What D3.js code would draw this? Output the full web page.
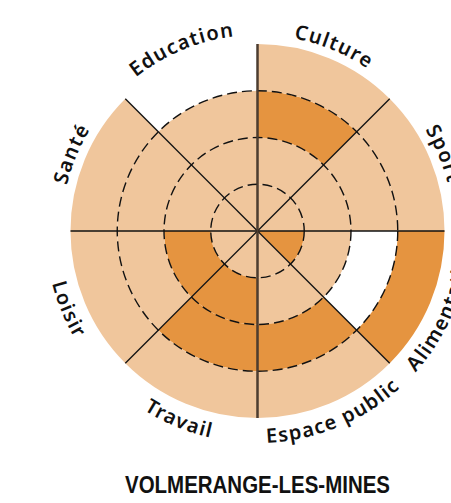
<!DOCTYPE html>
<html>
<head>
<meta charset="utf-8">
<script src="https://cdn.jsdelivr.net/npm/d3@7"></script>
<style>
  html, body { margin: 0; padding: 0; background: #fff; }
  svg { display: block; }
</style>
</head>
<body>
<svg id="chart" width="451" height="503"></svg>
<script>
// ---- data ----
const sectors = ["Culture", "Sport", "Alimentation", "Espace public", "Travail", "Loisir", "Santé", "Education"];
// ring levels from inner to outer: 0 = none, 1 = light, 2 = dark
const cultureRings      = [1, 1, 2, 1];
const sportRings        = [1, 1, 1, 1];
const alimentationRings = [2, 1, 0, 2];
const espacePublicRings = [1, 1, 2, 1];
const travailRings      = [1, 2, 2, 1];
const loisirRings       = [1, 2, 1, 1];
const santeRings        = [1, 1, 1, 1];
const educationRings    = [1, 1, 1, 0];
const ringValues = [cultureRings, sportRings, alimentationRings, espacePublicRings,
                    travailRings, loisirRings, santeRings, educationRings];
const ringTicks = [1, 2, 3];
const title = "VOLMERANGE-LES-MINES";

// ---- layout ----
const cx = 257.5, cy = 231;
const outerR = 187;
const colors = { 0: "none", 1: "#f0c69c", 2: "#e59440" };

const svg = d3.select("#chart");
const g = svg.append("g").attr("transform", `translate(${cx},${cy})`);

const angle = d3.scaleBand().domain(sectors).range([0, 2 * Math.PI]).padding(0);
const radius = d3.scaleLinear().domain([0, 4]).range([0, outerR]);

const cells = [];
sectors.forEach((s, si) => {
  ringValues[si].forEach((v, ri) => cells.push({ sector: s, ring: ri, value: v }));
});

const arc = d3.arc()
  .innerRadius(d => radius(d.ring))
  .outerRadius(d => radius(d.ring + 1))
  .startAngle(d => angle(d.sector))
  .endAngle(d => angle(d.sector) + angle.bandwidth());

g.append("g").selectAll("path")
  .data(cells.filter(d => d.value > 0))
  .join("path")
  .attr("d", arc)
  .attr("fill", d => colors[d.value]);

// dashed circles
g.append("g").selectAll("circle")
  .data(ringTicks)
  .join("circle")
  .attr("r", d => radius(d))
  .attr("fill", "none")
  .attr("stroke", "#111")
  .attr("stroke-width", 1.4)
  .attr("stroke-dasharray", "10,5");

// radial lines
g.append("g").selectAll("line")
  .data(sectors)
  .join("line")
  .attr("x1", 0).attr("y1", 0)
  .attr("x2", d => outerR * Math.sin(angle(d)))
  .attr("y2", d => -outerR * Math.cos(angle(d)))
  .attr("stroke", "#111")
  .attr("stroke-width", (d, i) => (i % 2 === 0 ? 1.6 : 1.3));

// vertical axis line (drawn thicker/brown)
g.append("line")
  .attr("x1", 0).attr("y1", -outerR).attr("x2", 0).attr("y2", outerR)
  .attr("stroke", "#4d3d30").attr("stroke-width", 2.2);

// labels on curved paths
const defs = svg.append("defs");
const topR = 196, botR = 212, half = 45 * Math.PI / 180;
sectors.forEach((s, i) => {
  const mid = angle(s) + angle.bandwidth() / 2;
  const bottom = mid > Math.PI / 2 && mid < 3 * Math.PI / 2;
  const R = bottom ? botR : topR;
  const a0 = bottom ? mid + half : mid - half;
  const a1 = bottom ? mid - half : mid + half;
  const p0 = [R * Math.sin(a0), -R * Math.cos(a0)];
  const p1 = [R * Math.sin(a1), -R * Math.cos(a1)];
  defs.append("path")
    .attr("id", "lp" + i)
    .attr("d", `M${p0[0]},${p0[1]} A${R},${R} 0 0 ${bottom ? 0 : 1} ${p1[0]},${p1[1]}`);
  g.append("text")
    .attr("font-family", "'Noto Sans', sans-serif")
    .attr("font-weight", 600)
    .attr("font-size", 20)
    .attr("letter-spacing", 1.3)
    .attr("fill", "#111")
    .append("textPath")
    .attr("href", "#lp" + i)
    .attr("startOffset", "50%")
    .attr("text-anchor", "middle")
    .text(s);
});

// title
svg.append("text")
  .attr("x", 257.5).attr("y", 493)
  .attr("text-anchor", "middle")
  .attr("font-family", "'Liberation Sans', Arial, sans-serif")
  .attr("font-weight", "bold")
  .attr("font-size", 24)
  .attr("textLength", 265)
  .attr("lengthAdjust", "spacingAndGlyphs")
  .attr("fill", "#111")
  .text(title);
</script>
</body>
</html>
